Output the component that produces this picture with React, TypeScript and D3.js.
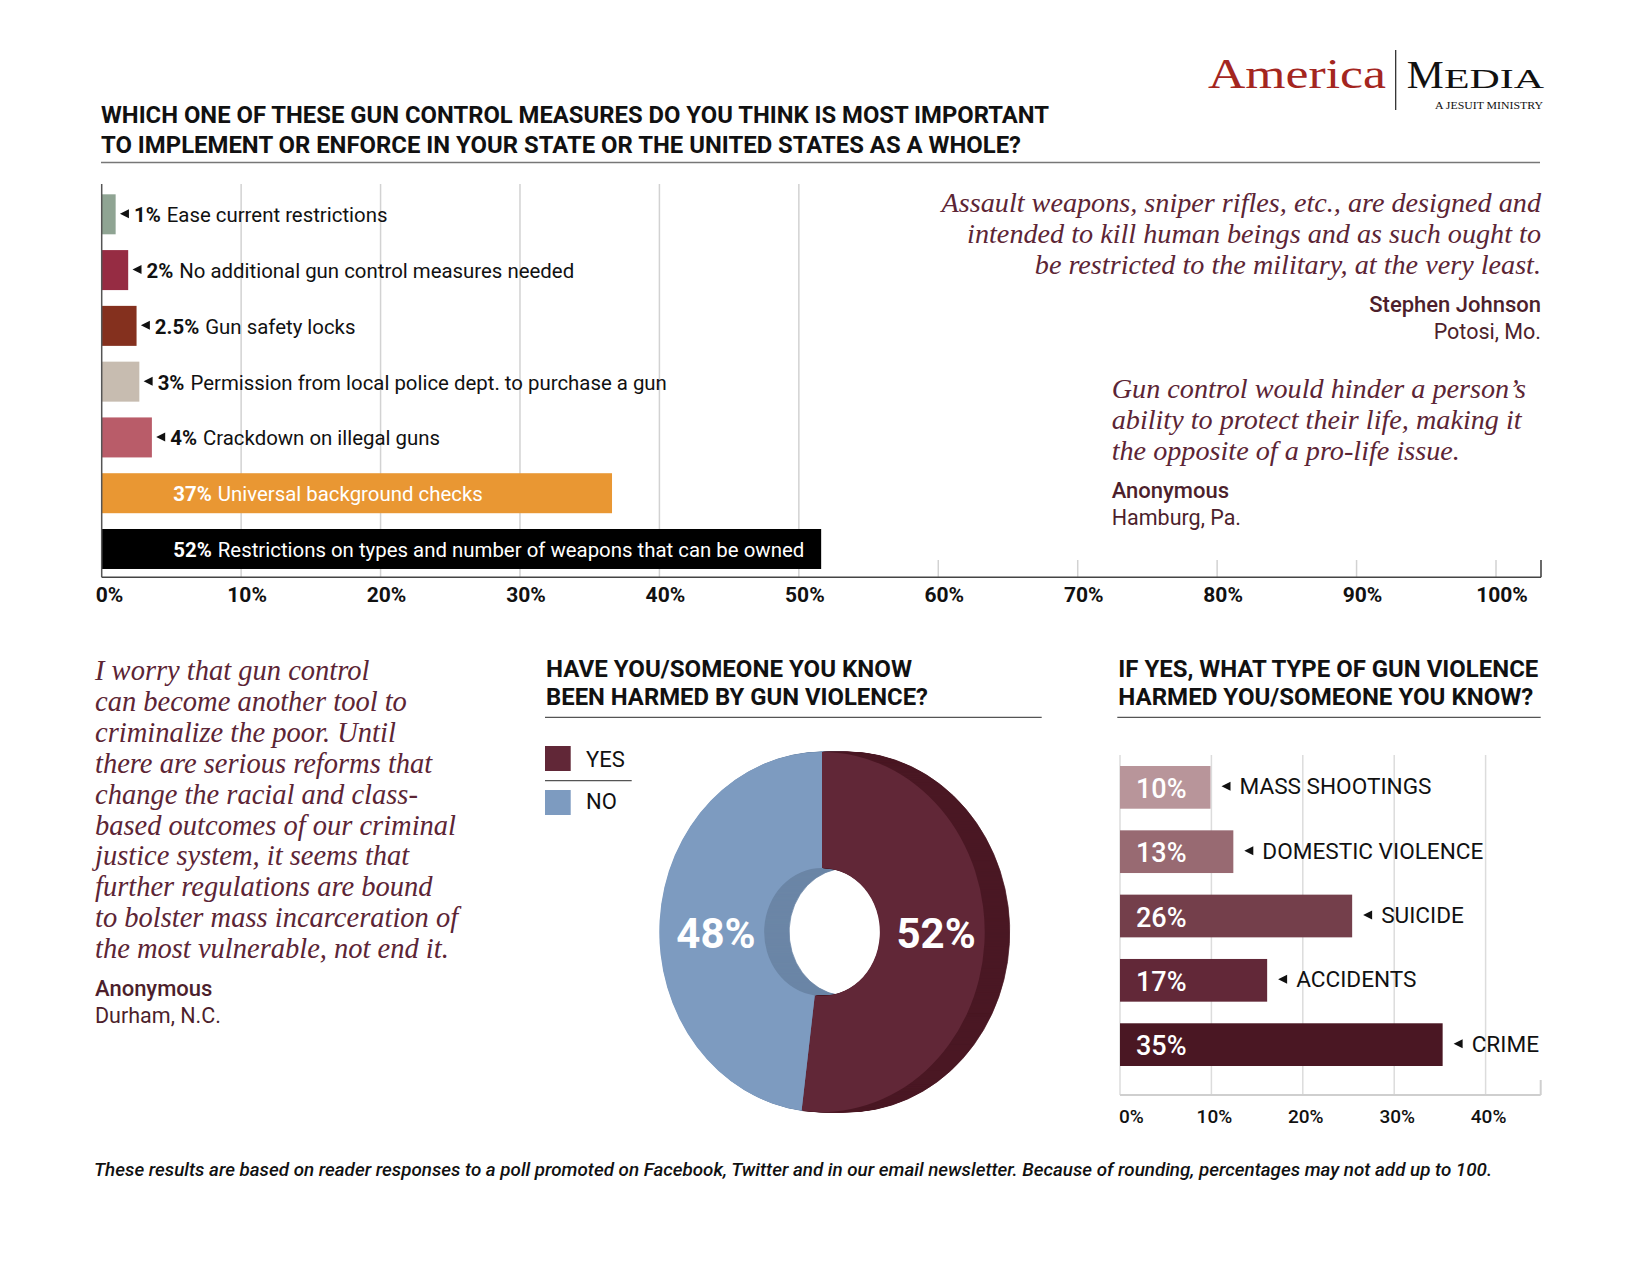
import React from "react";
import * as d3 from "d3";

// ---------- DATA ----------
const topCategories = [
  "Ease current restrictions",
  "No additional gun control measures needed",
  "Gun safety locks",
  "Permission from local police dept. to purchase a gun",
  "Crackdown on illegal guns",
  "Universal background checks",
  "Restrictions on types and number of weapons that can be owned",
];
const topValues = [1, 1.9, 2.5, 2.7, 3.6, 36.6, 51.6];
const topLabels = ["1%", "2%", "2.5%", "3%", "4%", "37%", "52%"];
const topColors = ["#8fa493", "#962c43", "#84301e", "#c7bcb0", "#b95c69", "#e99733", "#000000"];
const topTicks = [0, 10, 20, 30, 40, 50, 60, 70, 80, 90, 100];

const harmedCategories = ["YES", "NO"];
const harmedValues = [52, 48];
const harmedLabels = ["52%", "48%"];
const harmedColors = ["#612737", "#7d9bc0"];
const harmedSideColors = ["#4a1824", "#6b86a6"];

const typeCategories = ["MASS SHOOTINGS", "DOMESTIC VIOLENCE", "SUICIDE", "ACCIDENTS", "CRIME"];
const typeValues = [9.9, 12.4, 25.4, 16.1, 35.3];
const typeLabels = ["10%", "13%", "26%", "17%", "35%"];
const typeColors = ["#b8959a", "#986a72", "#743f4b", "#622838", "#4a1723"];
const typeTicks = [0, 10, 20, 30, 40];

const mainTitle = [
  "WHICH ONE OF THESE GUN CONTROL MEASURES DO YOU THINK IS MOST IMPORTANT",
  "TO IMPLEMENT OR ENFORCE IN YOUR STATE OR THE UNITED STATES AS A WHOLE?",
];
const harmedTitle = ["HAVE YOU/SOMEONE YOU KNOW", "BEEN HARMED BY GUN VIOLENCE?"];
const typeTitle = ["IF YES, WHAT TYPE OF GUN VIOLENCE", "HARMED YOU/SOMEONE YOU KNOW?"];

const quote1 = [
  "Assault weapons, sniper rifles, etc., are designed and",
  "intended to kill human beings and as such ought to",
  "be restricted to the military, at the very least.",
];
const quote1Author = ["Stephen Johnson", "Potosi, Mo."];
const quote2 = [
  "Gun control would hinder a person\u2019s",
  "ability to protect their life, making it",
  "the opposite of a pro-life issue.",
];
const quote2Author = ["Anonymous", "Hamburg, Pa."];
const quote3 = [
  "I worry that gun control",
  "can become another tool to",
  "criminalize the poor. Until",
  "there are serious reforms that",
  "change the racial and class-",
  "based outcomes of our criminal",
  "justice system, it seems that",
  "further regulations are bound",
  "to bolster mass incarceration of",
  "the most vulnerable, not end it.",
];
const quote3Author = ["Anonymous", "Durham, N.C."];
const footnote =
  "These results are based on reader responses to a poll promoted on Facebook, Twitter and in our email newsletter. Because of rounding, percentages may not add up to 100.";

// ---------- STYLE ----------
const SANS = "Roboto, 'Liberation Sans', Arial, sans-serif";
const SERIF = "'Liberation Serif', 'DejaVu Serif', 'Times New Roman', serif";
const QUOTE = "#5c2535";
const NAME = "#4d1f2c";

function tri(x: number, cy: number, w = 9, h = 9) {
  return `M${x},${cy}L${x + w},${cy - h / 2}L${x + w},${cy + h / 2}Z`;
}

export default function App() {
  // Top bar chart
  const x = d3.scaleLinear().domain([0, 100]).range([101.7, 1496]);
  const y = d3
    .scaleBand<string>()
    .domain(topCategories)
    .range([186, 577.3])
    .paddingInner(0.283)
    .paddingOuter(0.149);
  const axisY = 577.3;

  // Bottom-right bar chart
  const xb = d3.scaleLinear().domain([0, 40]).range([1120, 1485.6]);
  const yb = d3
    .scaleBand<string>()
    .domain(typeCategories)
    .range([737, 1095])
    .paddingInner(0.336)
    .paddingOuter(0.451);

  // Donut
  const pie = d3.pie<number>().sort(null).value((d) => d)(harmedValues);
  const arc = d3.arc<d3.PieArcDatum<number>>().innerRadius(64).outerRadius(180);
  const cx = 822;
  const cy = 932;
  const sx = 0.904;
  const depth = 25;
  const offsets = d3.range(depth, 0, -1);

  return (
    <svg
      width={1650}
      height={1275}
      style={{ position: "absolute", left: 0, top: 0, background: "#fff" }}
    >
      <rect x={0} y={0} width={1650} height={1275} fill="#fff" />

      {/* Logo */}
      <text x={1208} y={88} fontFamily={SERIF} fontSize={43} fill="#a4261f" textLength={178} lengthAdjust="spacingAndGlyphs">
        America
      </text>
      <line x1={1395.7} x2={1395.7} y1={50} y2={110} stroke="#222" strokeWidth={1.2} />
      <text x={1406.7} y={88} fontFamily={SERIF} fontSize={39} fill="#111" textLength={37} lengthAdjust="spacingAndGlyphs">
        M
      </text>
      <text x={1444} y={88} fontFamily={SERIF} fontSize={28} fill="#111" textLength={100} lengthAdjust="spacingAndGlyphs">
        EDIA
      </text>
      <text x={1435} y={109} fontFamily={SERIF} fontSize={11} fill="#111" textLength={108} lengthAdjust="spacingAndGlyphs">
        A JESUIT MINISTRY
      </text>

      {/* Main title */}
      {mainTitle.map((t, i) => (
        <text
          key={t}
          x={101}
          y={123 + i * 29.6}
          fontFamily={SANS}
          fontWeight={700}
          fontSize={23}
          fill="#111"
          textLength={i === 0 ? 948 : 920}
          lengthAdjust="spacingAndGlyphs"
        >
          {t}
        </text>
      ))}
      <line x1={101} x2={1540} y1={162.5} y2={162.5} stroke="#777" strokeWidth={1.6} />

      {/* Top chart gridlines */}
      {topTicks.map((t) =>
        t === 0 ? null : (
          <line
            key={"g" + t}
            x1={x(t)}
            x2={x(t)}
            y1={t <= 50 ? 184 : 560}
            y2={axisY}
            stroke="#d2d2d2"
            strokeWidth={1.5}
          />
        )
      )}
      {/* Bars */}
      {topCategories.map((c, i) => (
        <rect
          key={c}
          x={x(0)}
          y={y(c)!}
          width={x(topValues[i]) - x(0)}
          height={y.bandwidth()}
          fill={topColors[i]}
        />
      ))}
      {/* Bar labels */}
      {topCategories.map((c, i) => {
        const mid = y(c)! + y.bandwidth() / 2;
        const inside = topValues[i] > 20;
        if (inside) {
          return (
            <text key={"l" + c} x={x(0) + 71.6} y={mid + 8} fontFamily={SANS} fontSize={20.4} fill="#fff">
              <tspan fontWeight={700}>{topLabels[i]}</tspan>
              <tspan dx={6}>{c}</tspan>
            </text>
          );
        }
        const tx = x(topValues[i]) + 4.3;
        return (
          <g key={"l" + c}>
            <path d={tri(tx, mid - 0.5)} fill="#111" />
            <text x={tx + 14} y={mid + 8} fontFamily={SANS} fontSize={20.4} fill="#111">
              <tspan fontWeight={700}>{topLabels[i]}</tspan>
              <tspan dx={6}>{c}</tspan>
            </text>
          </g>
        );
      })}
      {/* Axes */}
      <line x1={x(0)} x2={x(0)} y1={184} y2={axisY} stroke="#555" strokeWidth={1.5} />
      <line x1={x(0)} x2={1541} y1={axisY} y2={axisY} stroke="#444" strokeWidth={1.6} />
      <line x1={1541} x2={1541} y1={560} y2={axisY} stroke="#444" strokeWidth={1.6} />
      {topTicks.map((t) => (
        <text
          key={"t" + t}
          x={t === 0 ? x(0) - 6 : x(t) + 6}
          y={601.7}
          textAnchor={t === 0 ? "start" : "middle"}
          fontFamily={SANS}
          fontWeight={700}
          fontSize={21}
          fill="#111"
        >
          {t + "%"}
        </text>
      ))}

      {/* Quote 1 (right aligned) */}
      {quote1.map((t, i) => (
        <text key={t} x={1541} y={211.5 + i * 31} textAnchor="end" fontFamily={SERIF} fontStyle="italic" fontSize={28.2} fill={QUOTE}>
          {t}
        </text>
      ))}
      <text x={1541} y={311.5} textAnchor="end" fontFamily={SANS} fontWeight={500} fontSize={22} fill={NAME}>
        {quote1Author[0]}
      </text>
      <text x={1541} y={338.5} textAnchor="end" fontFamily={SANS} fontSize={21.5} fill={NAME}>
        {quote1Author[1]}
      </text>

      {/* Quote 2 */}
      {quote2.map((t, i) => (
        <text key={t} x={1111.7} y={398 + i * 30.8} fontFamily={SERIF} fontStyle="italic" fontSize={28.2} fill={QUOTE}>
          {t}
        </text>
      ))}
      <text x={1111.7} y={498.3} fontFamily={SANS} fontWeight={500} fontSize={22} fill={NAME}>
        {quote2Author[0]}
      </text>
      <text x={1111.7} y={525} fontFamily={SANS} fontSize={21.5} fill={NAME}>
        {quote2Author[1]}
      </text>

      {/* Quote 3 (bottom-left) */}
      {quote3.map((t, i) => (
        <text key={t} x={95} y={680 + i * 30.9} fontFamily={SERIF} fontStyle="italic" fontSize={28.5} fill={QUOTE}>
          {t}
        </text>
      ))}
      <text x={95} y={996} fontFamily={SANS} fontWeight={500} fontSize={22} fill={NAME}>
        {quote3Author[0]}
      </text>
      <text x={95} y={1023.3} fontFamily={SANS} fontSize={21.5} fill={NAME}>
        {quote3Author[1]}
      </text>

      {/* Middle: donut */}
      {harmedTitle.map((t, i) => (
        <text
          key={t}
          x={546}
          y={676.7 + i * 28.3}
          fontFamily={SANS}
          fontWeight={700}
          fontSize={23}
          fill="#111"
          textLength={i === 0 ? 366 : 382}
          lengthAdjust="spacingAndGlyphs"
        >
          {t}
        </text>
      ))}
      <line x1={545} x2={1041.7} y1={717.3} y2={717.3} stroke="#555" strokeWidth={1.2} />
      {harmedCategories.map((c, i) => (
        <g key={"lg" + c}>
          <rect x={545} y={746 + i * 44} width={25.7} height={25} fill={harmedColors[i]} />
          <text x={586} y={766.7 + i * 42.5} fontFamily={SANS} fontSize={22} fill="#111">
            {c}
          </text>
        </g>
      ))}
      <line x1={545} x2={631.7} y1={780.7} y2={780.7} stroke="#555" strokeWidth={1.2} />

      {offsets.map((k) => (
        <g key={"side" + k} transform={`translate(${cx + k},${cy}) scale(${sx},1)`}>
          {pie.map((p, i) => (
            <path key={i} d={arc(p)!} fill={harmedSideColors[i]} stroke={harmedSideColors[i]} strokeWidth={0.8} />
          ))}
        </g>
      ))}
      <g transform={`translate(${cx},${cy}) scale(${sx},1)`}>
        {pie.map((p, i) => (
          <path key={i} d={arc(p)!} fill={harmedColors[i]} />
        ))}
      </g>
      {pie.map((p, i) => {
        const [ax] = arc.centroid(p);
        return (
          <text
            key={"pl" + i}
            x={cx + ax * sx + 4}
            y={948.3}
            textAnchor="middle"
            fontFamily={SANS}
            fontWeight={700}
            fontSize={42}
            fill="#fff"
          >
            {harmedLabels[i]}
          </text>
        );
      })}

      {/* Right: type bar chart */}
      {typeTitle.map((t, i) => (
        <text
          key={t}
          x={1118.3}
          y={676.7 + i * 28.3}
          fontFamily={SANS}
          fontWeight={700}
          fontSize={23}
          fill="#111"
          textLength={i === 0 ? 420 : 415}
          lengthAdjust="spacingAndGlyphs"
        >
          {t}
        </text>
      ))}
      <line x1={1117.3} x2={1540.7} y1={717.3} y2={717.3} stroke="#555" strokeWidth={1.2} />
      {typeTicks.map((t) => (
        <line key={"bg" + t} x1={xb(t)} x2={xb(t)} y1={755} y2={1095} stroke="#dcdcdc" strokeWidth={1.5} />
      ))}
      {typeCategories.map((c, i) => {
        const yy = yb(c)!;
        const mid = yy + yb.bandwidth() / 2;
        const tx = xb(typeValues[i]) + 11;
        return (
          <g key={c}>
            <rect x={xb(0)} y={yy} width={xb(typeValues[i]) - xb(0)} height={yb.bandwidth()} fill={typeColors[i]} />
            <text x={xb(0) + 16} y={mid + 10.5} fontFamily={SANS} fontWeight={500} fontSize={27} fill="#fff">
              {typeLabels[i]}
            </text>
            <path d={tri(tx, mid - 1)} fill="#111" />
            <text x={tx + 18} y={mid + 7} fontFamily={SANS} fontSize={22.6} fill="#111">
              {c}
            </text>
          </g>
        );
      })}
      <line x1={xb(0)} x2={1540.7} y1={1095} y2={1095} stroke="#cfcfcf" strokeWidth={2} />
      <line x1={1540.7} x2={1540.7} y1={1080} y2={1095} stroke="#cfcfcf" strokeWidth={2} />
      {typeTicks.map((t) => (
        <text
          key={"bt" + t}
          x={t === 0 ? xb(0) - 1 : xb(t) + 3}
          y={1123.3}
          textAnchor={t === 0 ? "start" : "middle"}
          fontFamily={SANS}
          fontWeight={500}
          fontSize={19}
          fill="#111"
        >
          {t + "%"}
        </text>
      ))}

      {/* Footnote */}
      <text
        x={94}
        y={1175.7}
        fontFamily={SANS}
        fontStyle="italic"
        fontWeight={500}
        fontSize={18}
        fill="#111"
        textLength={1398}
        lengthAdjust="spacingAndGlyphs"
      >
        {footnote}
      </text>
    </svg>
  );
}
